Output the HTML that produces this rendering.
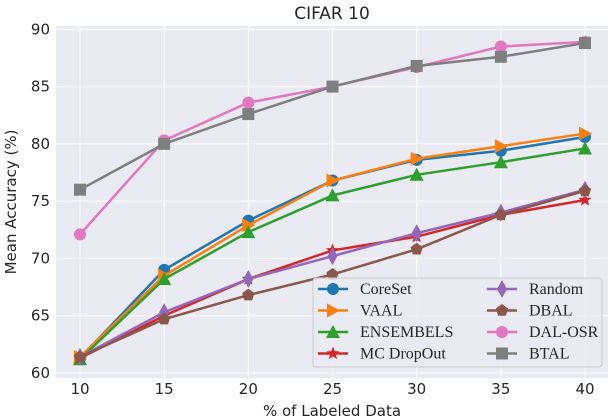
<!DOCTYPE html>
<html><head><meta charset="utf-8"><style>
body{margin:0;background:#fff;width:610px;height:420px;overflow:hidden}
svg{display:block;font-family:"DejaVu Sans","Liberation Sans",sans-serif}
</style></head><body>
<svg id="chart" width="610" height="420"></svg>
<script>
const xs=[10,15,20,25,30,35,40];
const yTicks=[60,65,70,75,80,85,90];
const names=["CoreSet","VAAL","ENSEMBELS","MC DropOut","Random","DBAL","DAL-OSR","BTAL"];
const colors=["#1f77b4","#ff7f0e","#2ca02c","#d62728","#9467bd","#8c564b","#e377c2","#7f7f7f"];
const markers=["circle","tri-right","tri-up","star","diamond","pentagon","circle","square"];
const coreset=[61.3,69.0,73.3,76.8,78.6,79.4,80.6];
const vaal=[61.4,68.5,72.9,76.8,78.7,79.8,80.9];
const ensembels=[61.2,68.2,72.3,75.5,77.3,78.4,79.6];
const mcdropout=[61.3,65.0,68.2,70.7,71.9,73.8,75.1];
const random=[61.4,65.3,68.2,70.2,72.2,74.0,76.0];
const dbal=[61.4,64.7,66.8,68.6,70.8,73.8,75.9];
const dalosr=[72.1,80.3,83.6,85.0,86.7,88.5,88.9];
const btal=[76.0,80.0,82.6,85.0,86.8,87.6,88.8];
const series=[coreset,vaal,ensembels,mcdropout,random,dbal,dalosr,btal];
const NS="http://www.w3.org/2000/svg";
const svg=document.getElementById('chart');
const L=56,R=608,T=26,B=378;
const X=v=>80+(v-10)*(585-80)/30;
const Y=v=>373-(v-60)*(373-29.3)/30;
function mk(tag,a,parent){const e=document.createElementNS(NS,tag);for(const k in a)e.setAttribute(k,a[k]);(parent||svg).appendChild(e);return e;}
const bg=mk('rect',{x:L,y:T,width:R-L,height:B-T,fill:'#eaeaf2'});


xs.forEach(v=>{const l=mk('line',{x1:X(v),x2:X(v),y1:T,y2:B,stroke:'#fff','stroke-width':1});


const t=mk('text',{x:X(v),y:B+16,'text-anchor':'middle','font-size':15,fill:'#262626'});t.textContent=v;

});
yTicks.forEach(v=>{const l=mk('line',{x1:L,x2:R,y1:Y(v),y2:Y(v),stroke:'#fff','stroke-width':1});


const t=mk('text',{x:L-6,y:Y(v)+5,'text-anchor':'end','font-size':15,fill:'#262626'});t.textContent=v;

});
function marker(g,type,cx,cy,c,s){
 s=s||1;let e;
 if(type==='circle')e=mk('circle',{cx,cy,r:6*s,fill:c},g);
 else if(type==='square')e=mk('rect',{x:cx-6*s,y:cy-6*s,width:12*s,height:12*s,fill:c},g);
 else{let pts;
  if(type==='tri-right')pts=[[7,0],[-6,-7],[-6,7]];
  if(type==='tri-up')pts=[[0,-7],[7,6],[-7,6]];
  if(type==='diamond')pts=[[0,-9],[5,0],[0,9],[-5,0]];
  if(type==='pentagon'){pts=[];for(let i=0;i<5;i++){const a=-Math.PI/2+i*2*Math.PI/5;pts.push([6.5*Math.cos(a),6.5*Math.sin(a)]);}}
  if(type==='star'){pts=[];for(let i=0;i<10;i++){const a=-Math.PI/2+i*Math.PI/5,r=i%2?3:7;pts.push([r*Math.cos(a),r*Math.sin(a)]);}}
  e=mk('polygon',{points:pts.map(p=>(cx+p[0]*s)+','+(cy+p[1]*s)).join(' '),fill:c},g);}
 return e;}
series.forEach((d,i)=>{
 const g=mk('g',{});
 
 
 const ln=mk('polyline',{points:d.map((v,j)=>X(xs[j])+','+Y(v)).join(' '),fill:'none',stroke:colors[i],'stroke-width':2.5},g);
 
 
 d.forEach((v,j)=>{const m=marker(g,markers[i],X(xs[j]),Y(v),colors[i]);
 
 });
});
const lg=mk('g',{});


mk('rect',{x:313,y:278,width:289,height:89,rx:3,fill:'#eaeaf2','fill-opacity':0.85,stroke:'#ccc'},lg);
names.forEach((n,i)=>{
 const col=Math.floor(i/4),row=i%4;
 const x0=col?487:318,y0=289+row*21.5;
 const e=mk('g',{},lg);
 
 
 mk('line',{x1:x0,x2:x0+30,y1:y0,y2:y0,stroke:colors[i],'stroke-width':2.5},e);
 marker(e,markers[i],x0+15,y0,colors[i]);
 const t=mk('text',{x:x0+42,y:y0+5,'font-size':16,fill:'#262626','font-family':'"Liberation Serif",serif'},e);t.textContent=n;
});
const title=mk('text',{x:332,y:19,'text-anchor':'middle','font-size':17,fill:'#262626'});title.textContent='CIFAR 10';


const xt=mk('text',{x:332,y:416,'text-anchor':'middle','font-size':15,fill:'#262626'});xt.textContent='% of Labeled Data';


const yt=mk('text',{x:0,y:0,'text-anchor':'middle','font-size':15,fill:'#262626',transform:'translate(16,202) rotate(-90)'});yt.textContent='Mean Accuracy (%)';


</script>
</body></html>
